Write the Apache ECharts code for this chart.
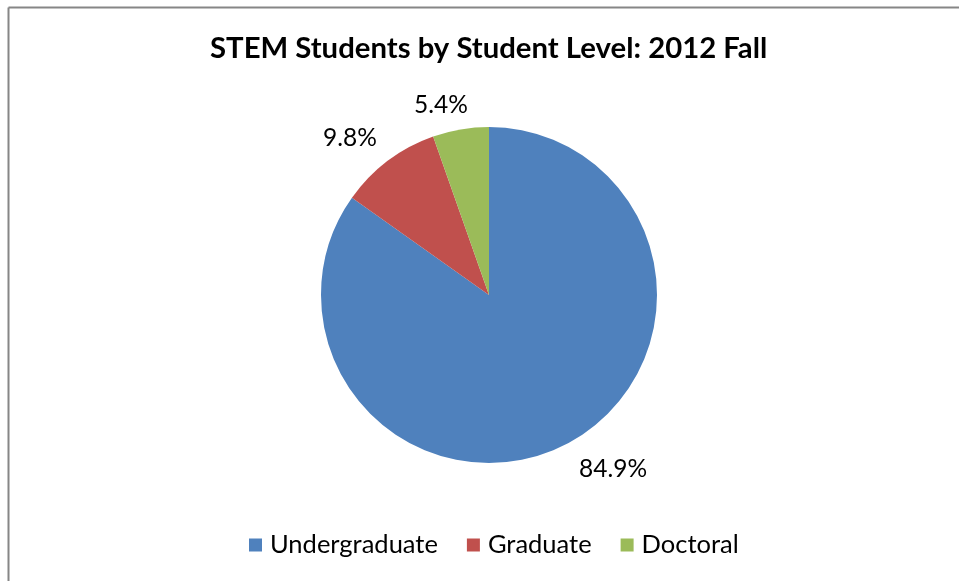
<!DOCTYPE html>
<html>
<head>
<meta charset="utf-8">
<script src="https://cdn.jsdelivr.net/npm/echarts@6/dist/echarts.min.js"></script>
<style>
html,body{margin:0;padding:0;background:#fff;}
#c{width:959px;height:581px;}
</style>
</head>
<body>
<div id="c"></div>
<script>
const titleText = 'STEM Students by Student Level: 2012 Fall';
const categories = ['Undergraduate', 'Graduate', 'Doctoral'];
const values = [84.9, 9.8, 5.4];
const colors = ['#4F81BD', '#C0504D', '#9BBB59'];

const chart = echarts.init(document.getElementById('c'));
const font = 'Lato, "Open Sans", sans-serif';
chart.setOption({
  animation: false,
  color: colors,
  title: {
    text: titleText,
    left: 205,
    top: 29,
    textStyle: {fontFamily: font, fontSize: 29.3, fontWeight: 'bold', color: '#000'}
  },
  legend: {
    data: categories,
    bottom: 18,
    left: 244,
    itemWidth: 13,
    itemHeight: 13,
    itemGap: 29,
    icon: 'rect',
    textStyle: {fontFamily: font, fontSize: 25.5, color: '#000', padding: [0, 0, 0, 3]}
  },
  graphic: [
    {type: 'line', shape: {x1: 8.5, y1: 7.5, x2: 959, y2: 7.5}, style: {stroke: '#868686', lineWidth: 2}},
    {type: 'line', shape: {x1: 8.5, y1: 7.5, x2: 8.5, y2: 581}, style: {stroke: '#868686', lineWidth: 2}}
  ],
  series: [{
    type: 'pie',
    center: [489, 295],
    radius: 168,
    startAngle: 90,
    clockwise: true,
    data: categories.map((n, i) => ({name: n, value: values[i]})),
    label: {
      show: true,
      position: 'outside',
      formatter: p => p.value.toFixed(1) + '%',
      fontFamily: font,
      fontSize: 24.5,
      color: '#000',
      distanceToLabelLine: 0
    },
    labelLine: {show: false, length: 28, length2: 0},
    labelLayout: p => p.dataIndex === 2 ? {dx: 12, dy: 3} : (p.dataIndex === 1 ? {dx: 6} : {}),
    itemStyle: {borderWidth: 0}
  }]
});
</script>
</body>
</html>
